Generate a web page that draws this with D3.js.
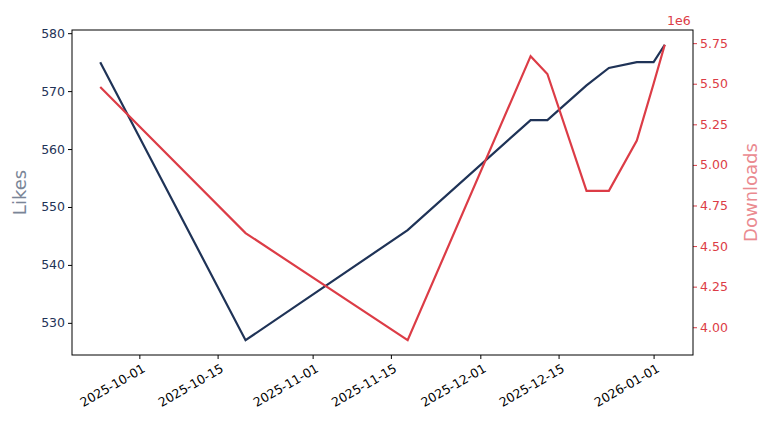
<!DOCTYPE html><html><head><script src="https://cdn.jsdelivr.net/npm/d3@7"></script>
<style>body{margin:0;background:#fff}text{font-family:"DejaVu Sans",sans-serif}</style></head><body>
<svg id="c" width="768" height="432"></svg>
<script>
const dates=["2025-09-24","2025-10-20","2025-11-18","2025-12-10","2025-12-13","2025-12-20","2025-12-24","2025-12-29","2026-01-01","2026-01-03"];
const likes=[575,527,546,565,565,571,574,575,575,578];
const downloads=[5.48e6,4.58e6,3.92e6,5.67e6,5.56e6,4.84e6,4.84e6,5.15e6,5.50e6,5.74e6];
const xTicks=["2025-10-01","2025-10-15","2025-11-01","2025-11-15","2025-12-01","2025-12-15","2026-01-01"];
const likeTicks=[530,540,550,560,570,580];
const dlTicks=[4.0,4.25,4.5,4.75,5.0,5.25,5.5,5.75];
const P=d3.utcParse("%Y-%m-%d");
const L=72,R=693,T=30,B=355;
const svg=d3.select("#c");
const dt=dates.map(P);
const x0=d3.min(dt),x1=d3.max(dt),px=(x1-x0)*0.05;
const x=d3.scaleUtc().domain([new Date(+x0-px),new Date(+x1+px)]).range([L,R]);
const le=d3.extent(likes),lp=(le[1]-le[0])*0.05;
const y=d3.scaleLinear().domain([le[0]-lp,le[1]+lp]).range([B,T]);
const de=d3.extent(downloads),dp=(de[1]-de[0])*0.05;
const y2=d3.scaleLinear().domain([de[0]-dp,de[1]+dp]).range([B,T]);
const navy="#1f3357",red="#dc3c46";
const gx=svg.append("g").attr("transform",`translate(0,${B})`).call(d3.axisBottom(x).tickValues(xTicks.map(P)).tickFormat(d3.utcFormat("%Y-%m-%d")).tickSizeOuter(0).tickSize(4));
gx.selectAll("text").attr("font-size",12.5).attr("fill","#000").attr("text-anchor","end").attr("transform","rotate(-30)").attr("dx","-0.2em").attr("dy","0.8em");
const gy=svg.append("g").attr("transform",`translate(${L},0)`).call(d3.axisLeft(y).tickValues(likeTicks).tickSizeOuter(0).tickSize(4));
gy.selectAll("text").attr("font-size",12.5).attr("fill",navy);
const gy2=svg.append("g").attr("transform",`translate(${R},0)`).call(d3.axisRight(y2).tickValues(dlTicks.map(v=>v*1e6)).tickFormat(v=>(v/1e6).toFixed(2)).tickSizeOuter(0).tickSize(4));
gy2.selectAll("text").attr("font-size",12.5).attr("fill",red);
gy2.selectAll("line").attr("stroke",red);
[gx,gy,gy2].forEach(g=>g.select(".domain").remove());
svg.append("rect").attr("x",L).attr("y",T).attr("width",R-L).attr("height",B-T).attr("fill","none").attr("stroke","#000");
svg.append("text").attr("x",R-26).attr("y",T-5).attr("font-size",12.5).attr("fill",red).text("1e6");
svg.append("text").attr("transform",`translate(26,${(T+B)/2}) rotate(-90)`).attr("text-anchor","middle").attr("font-size",18).attr("fill","#7a8597").text("Likes");
svg.append("text").attr("transform",`translate(757,${(T+B)/2}) rotate(-90)`).attr("text-anchor","middle").attr("font-size",18).attr("fill","#ea8a90").text("Downloads");
svg.append("path").datum(dt.map((d,i)=>[d,likes[i]])).attr("fill","none").attr("stroke",navy).attr("stroke-width",2.2).attr("d",d3.line().x(d=>x(d[0])).y(d=>y(d[1])));
svg.append("path").datum(dt.map((d,i)=>[d,downloads[i]])).attr("fill","none").attr("stroke",red).attr("stroke-width",2.2).attr("d",d3.line().x(d=>x(d[0])).y(d=>y2(d[1])));
</script></body></html>
